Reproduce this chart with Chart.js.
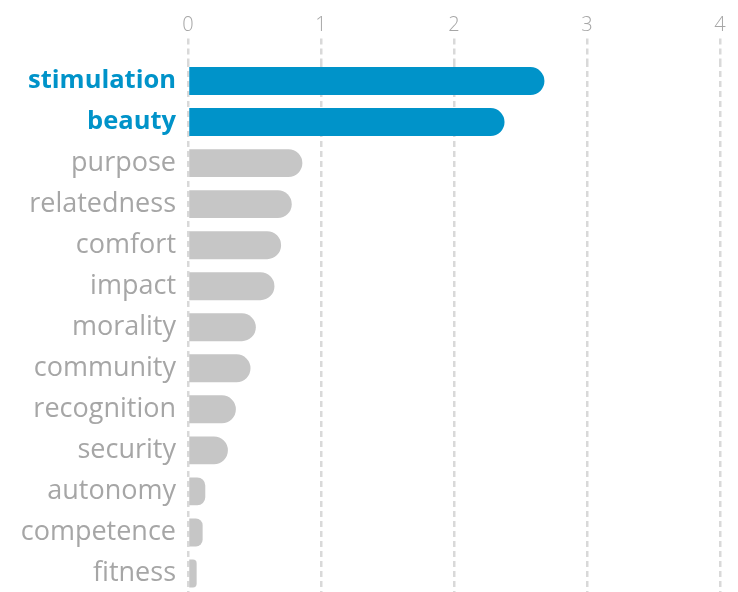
<!DOCTYPE html>
<html>
<head>
<meta charset="utf-8">
<script src="https://cdn.jsdelivr.net/npm/chart.js@4"></script>
<style>
  html, body { margin: 0; padding: 0; background: #fff; overflow: hidden; }
  .chart-container { position: relative; width: 738px; height: 594px; }
</style>
</head>
<body>
<div class="chart-container">
  <canvas id="chart" aria-label="Motivation bar chart" role="img"></canvas>
</div>
<script>
const categories = [
  'stimulation', 'beauty', 'purpose', 'relatedness', 'comfort', 'impact',
  'morality', 'community', 'recognition', 'security', 'autonomy',
  'competence', 'fitness',
];
const values = [2.68, 2.38, 0.86, 0.78, 0.70, 0.65, 0.51, 0.47, 0.36, 0.30, 0.13, 0.11, 0.065];
const highlighted = ['stimulation', 'beauty'];
const xTicks = [0, 1, 2, 3, 4];

const BLUE = '#0093c9';
const GREY_BAR = '#c6c6c6';
const GREY_TEXT = '#a6a6a6';
const GRID = '#d9d9d9';

const isHighlighted = (index) => highlighted.includes(categories[index]);

const ctx = document.getElementById('chart');

new Chart(ctx, {
  type: 'bar',
  data: {
    labels: categories,
    datasets: [{
      data: values,
      backgroundColor: categories.map((_, i) => (isHighlighted(i) ? BLUE : GREY_BAR)),
      borderRadius: 14,
      borderSkipped: 'start',
      barPercentage: 0.85,
      categoryPercentage: 0.8,
    }],
  },
  options: {
    indexAxis: 'y',
    responsive: true,
    maintainAspectRatio: false,
    animation: false,
    layout: { padding: { top: 0, right: 18, bottom: 0, left: 0 } },
    plugins: {
      legend: { display: false },
      tooltip: { enabled: false },
    },
    scales: {
      x: {
        position: 'top',
        min: 0,
        max: 4,
        afterBuildTicks: (scale) => {
          scale.ticks = xTicks.map(v => ({ value: v }));
        },
        afterFit: (scale) => { scale.height = 60.5; },
        border: { display: false, dash: [6, 4] },
        grid: {
          color: GRID,
          lineWidth: 2.5,
          drawTicks: true,
          tickLength: 22,
          tickColor: GRID,
          tickWidth: 2.5,
          tickBorderDash: [6, 4],
        },
        ticks: {
          color: GREY_TEXT,
          padding: 1,
          font: { family: 'Open Sans', size: 20, weight: 300 },
        },
      },
      y: {
        afterFit: (scale) => {
          scale.width = 188;
          scale.paddingTop = 0;
          scale.paddingBottom = 0;
        },
        border: { display: false },
        grid: { display: false, drawTicks: false },
        ticks: {
          padding: 12,
          color: (c) => (isHighlighted(c.index) ? BLUE : GREY_TEXT),
          font: (c) => (isHighlighted(c.index)
            ? { family: 'Open Sans', size: 25.5, weight: 'bold' }
            : { family: 'Open Sans', size: 27, weight: 'normal' }),
        },
      },
    },
  },
});
</script>
</body>
</html>
